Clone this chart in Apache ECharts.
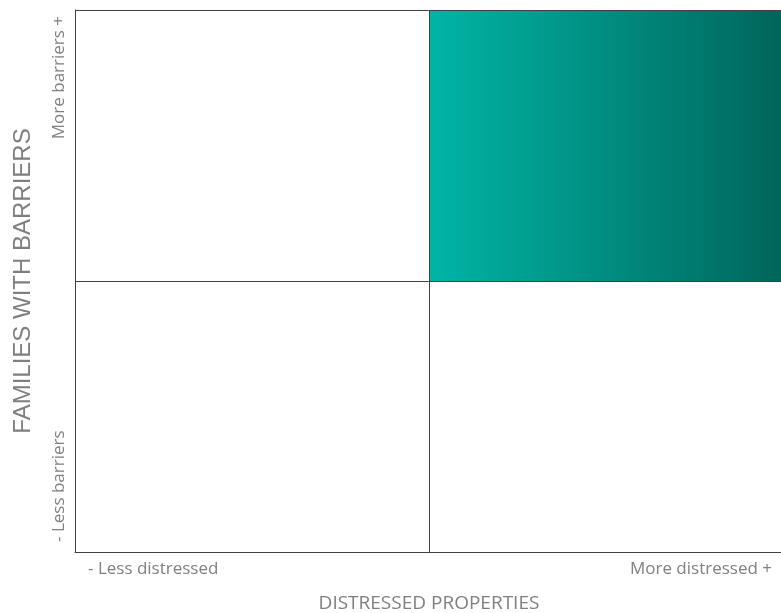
<!DOCTYPE html>
<html>
<head>
<meta charset="utf-8">
<script src="https://cdn.jsdelivr.net/npm/echarts@6/dist/echarts.min.js"></script>
<style>
  html, body { margin: 0; padding: 0; background: #fff; }
  #chart { width: 781px; height: 613px; }
</style>
</head>
<body>
<div id="chart"></div>
<script>
const xTickLabels = ['- Less distressed', 'More distressed +'];
const yTickLabels = ['- Less barriers', 'More barriers +'];
const xName = 'DISTRESSED PROPERTIES';
const yName = 'FAMILIES WITH BARRIERS';
// highlighted quadrant: [xFrom, yFrom, xTo, yTo]
const highlighted = [[1, 1, 2, 2]];

const textColor = '#7f7f7f';
const lineColor = '#404040';

const chart = echarts.init(document.getElementById('chart'));

const option = {
  animation: false,
  grid: { left: 75, top: 10, right: -2, bottom: 61, containLabel: false, outerBoundsMode: 'none' },
  xAxis: {
    type: 'value',
    min: 0,
    max: 2,
    interval: 1,
    name: xName,
    nameLocation: 'middle',
    nameGap: 42,
    nameTextStyle: { color: textColor, fontSize: 19, fontFamily: 'Open Sans' },
    axisLine: { show: true, lineStyle: { color: lineColor, width: 1 } },
    axisTick: { show: false },
    splitLine: { show: true, lineStyle: { color: lineColor, width: 1 } },
    axisLabel: {
      color: textColor,
      fontSize: 17,
      fontFamily: 'Open Sans',
      margin: 9,
      padding: [0, 11, 0, 13],
      alignMinLabel: 'left',
      alignMaxLabel: 'right',
      formatter: (v) => (v === 0 ? xTickLabels[0] : v === 2 ? xTickLabels[1] : '')
    }
  },
  yAxis: {
    type: 'value',
    min: 0,
    max: 2,
    interval: 1,
    name: yName,
    nameLocation: 'middle',
    nameRotate: 90,
    nameGap: 40,
    nameTextStyle: { color: textColor, fontSize: 24, fontFamily: 'Liberation Sans' },
    axisLine: { show: true, lineStyle: { color: lineColor, width: 1 } },
    axisTick: { show: false },
    splitLine: { show: true, lineStyle: { color: lineColor, width: 1 } },
    axisLabel: {
      color: textColor,
      fontSize: 17,
      fontFamily: 'Open Sans',
      rotate: 90,
      margin: 7,
      padding: [0, 6, 0, 10],
      alignMinLabel: 'left',
      alignMaxLabel: 'right',
      formatter: (v) => (v === 0 ? yTickLabels[0] : v === 2 ? yTickLabels[1] : '')
    }
  },
  series: [{
    type: 'custom',
    z: -1,
    silent: true,
    data: highlighted,
    renderItem: (params, api) => {
      const p0 = api.coord([api.value(0), api.value(3)]);
      const p1 = api.coord([api.value(2), api.value(1)]);
      return {
        type: 'rect',
        shape: { x: p0[0], y: p0[1], width: p1[0] - p0[0], height: p1[1] - p0[1] },
        style: {
          fill: new echarts.graphic.LinearGradient(0, 0, 1, 0, [
            { offset: 0, color: '#00b5a6' },
            { offset: 1, color: '#00655b' }
          ])
        }
      };
    }
  }]
};

chart.setOption(option);
</script>
</body>
</html>
